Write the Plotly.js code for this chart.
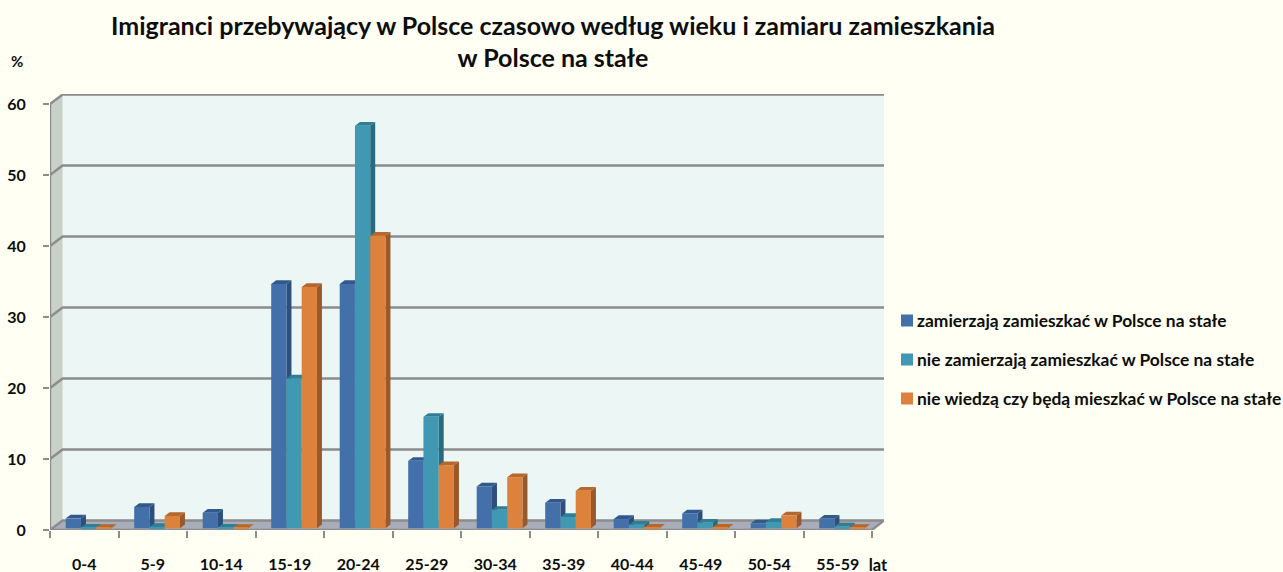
<!DOCTYPE html>
<html><head><meta charset="utf-8">
<script src="https://cdn.plot.ly/plotly-3.0.1.min.js"></script>
<style>html,body{margin:0;padding:0;background:#fffff3}#c{width:1283px;height:572px}</style>
</head><body><div id="c"></div>
<script>
const categories = ['0-4','5-9','10-14','15-19','20-24','25-29','30-34','35-39','40-44','45-49','50-54','55-59'];
const seriesNames = ['zamierzają zamieszkać w Polsce na stałe','nie zamierzają zamieszkać w Polsce na stałe','nie wiedzą czy będą mieszkać w Polsce na stałe'];
const planuja = [1.4,3.0,2.2,34.4,34.4,9.5,5.9,3.6,1.3,2.1,0.7,1.35];
const nie = [0.1,0.2,0.1,21.1,56.7,15.7,2.6,1.6,0.5,0.8,0.9,0.25];
const nieWiedza = [0.05,1.75,0.05,34.0,41.2,8.9,7.2,5.3,0.1,0.1,1.8,0.05];
const yTicks = [0,10,20,30,40,50,60];

const seriesValues = [planuja, nie, nieWiedza];
const frontColors = ['#4470a9','#4098b2','#dd823c'];
const sideColors = ['#2c4f7c','#296b7e','#99592a'];
const topColors = ['#32598b','#2e7f96','#b5672c'];
const FONT = 'Lato, "Open Sans", sans-serif';
const TEXT = '#0d0d0d', GRID = '#8c8c8c';

// scales (axis units per pixel)
const PX = 68.5, PY = 7.1;
const xMin = -0.5, xMax = xMin + 834 / PX, yMax = 436 / PY;
const wallDx = 12.6 / PX, wallDy = 9.5 / PY;
const barW = 15.25 / PX, barDx = 5 / PX, barDy = 3.7 / PY;
const barBase = 1.7 / PY, barStart = -18.55 / PX;
const xFrontEnd = xMin + 12;

function poly(points, fill, layer) {
  return {type:'path', xref:'x', yref:'y', layer,
    path:'M' + points.map(p => p[0] + ',' + p[1]).join('L') + 'Z',
    fillcolor:fill, line:{width:0}};
}
function seg(points, color, width, layer) {
  return {type:'path', xref:'x', yref:'y', layer,
    path:'M' + points.map(p => p[0] + ',' + p[1]).join('L'),
    line:{color, width}};
}
const shapes = [];
// back wall, side wall and floor
shapes.push(poly([[xMin+wallDx,wallDy],[xMax,wallDy],[xMax,yMax],[xMin+wallDx,yMax]], '#ebf6f5','below'));
shapes.push(poly([[xMin,0],[xMin+wallDx,wallDy],[xMin+wallDx,60+wallDy],[xMin,60]], '#c8d0ca','below'));
shapes.push(poly([[xMin,0],[xFrontEnd,0],[xMax,wallDy],[xMin+wallDx,wallDy]], '#a9adb9','below'));
yTicks.forEach(v => shapes.push(seg([[xMin,v],[xMin+wallDx,v+wallDy],[xMax,v+wallDy]], GRID, 2.4, 'below')));
shapes.push(seg([[xMin,0],[xMin,60]], GRID, 2.4, 'below'));
shapes.push(seg([[xMin,0],[xFrontEnd,0],[xMax,wallDy]], GRID, 2.4, 'below'));
// depth faces of the bars, back to front
categories.forEach((c, i) => {
  seriesValues.forEach((vals, s) => {
    const x0 = i + barStart + s * barW, x1 = x0 + barW;
    const top = barBase + vals[i], bot = barBase;
    shapes.push(poly([[x1,bot],[x1,top],[x1+barDx,top+barDy],[x1+barDx,bot+barDy]], sideColors[s], 'between'));
    shapes.push(poly([[x0,top],[x1,top],[x1+barDx,top+barDy],[x0+barDx,top+barDy]], topColors[s], 'between'));
  });
});

const traces = seriesValues.map((vals, s) => ({
  type:'bar', name:seriesNames[s], x:categories, y:vals,
  base:barBase, width:barW, offset:barStart + s * barW,
  marker:{color:frontColors[s], line:{width:0}},
  legendgroup:'g' + s, cliponaxis:false,
  hovertemplate:'%{x}: %{y}%<extra></extra>'
}));
// empty trace that keeps the axis carrying the unit label ("lat") alive
traces.push({type:'scatter', x:[], y:[], xaxis:'x2', yaxis:'y', showlegend:false, hoverinfo:'skip'});

const latPos = xMin + 828 / PX;
const layout = {
  width:1283, height:572,
  paper_bgcolor:'#fffff3', plot_bgcolor:'rgba(0,0,0,0)',
  margin:{l:50, r:399, t:94, b:42, pad:0, autoexpand:false},
  barmode:'overlay',
  font:{family:FONT, color:TEXT, weight:700},
  title:{
    text:'<span style="font-size:25px">Imigranci przebywający w Polsce czasowo według wieku i zamiaru zamieszkania<br>w Polsce na stałe</span>',
    font:{family:FONT, size:24.6, color:TEXT, weight:700},
    x:553/1283, xanchor:'center', xref:'container', y:1-35/572, yanchor:'top', yref:'container'
  },
  xaxis:{type:'category', categoryorder:'array', categoryarray:categories,
    range:[xMin, xMax], tickson:'boundaries', ticks:'outside', ticklen:7, tickwidth:2.4, tickcolor:GRID,
    showgrid:false, zeroline:false, showline:false, ticklabelstandoff:23,
    tickfont:{family:FONT, size:16, color:TEXT, weight:700}, automargin:false, fixedrange:true},
  xaxis2:{type:'linear', overlaying:'x', anchor:'y', side:'bottom', range:[xMin, xMax],
    tickmode:'array', tickvals:[latPos], ticktext:['lat'], ticks:'', ticklabelstandoff:23,
    showgrid:false, zeroline:false, showline:false,
    tickfont:{family:FONT, size:16.5, color:TEXT, weight:700}, automargin:false, fixedrange:true},
  yaxis:{range:[0,yMax], tickmode:'array', tickvals:yTicks, ticktext:yTicks.map(String),
    ticks:'outside', ticklen:6, tickwidth:2.4, tickcolor:GRID,
    showgrid:false, zeroline:false, showline:false, ticklabelstandoff:14,
    tickfont:{family:FONT, size:16, color:TEXT, weight:700}, automargin:false, fixedrange:true},
  showlegend:true,
  legend:{x:(877-50)/834, xanchor:'left', y:(530-302.7)/436, yanchor:'top', xref:'paper', yref:'paper',
    bgcolor:'rgba(0,0,0,0)', borderwidth:0, traceorder:'grouped', tracegroupgap:13.4,
    font:{family:FONT, size:17.4, color:TEXT, weight:700}},
  annotations:[
    {xref:'paper', yref:'paper', x:(17-50)/834, y:(530-61)/436, xanchor:'center', yanchor:'middle', text:'%', showarrow:false,
     font:{family:FONT, size:15, color:TEXT, weight:700}}
  ],
  shapes
};
Plotly.newPlot('c', traces, layout, {displayModeBar:false}).then(gd => {
  // tighten the gap between the legend swatches and their labels
  gd.querySelectorAll('.legend g.layers').forEach(g => {
    g.setAttribute('transform', (g.getAttribute('transform') || '') + ' translate(10,0)');
  });
});
</script></body></html>
